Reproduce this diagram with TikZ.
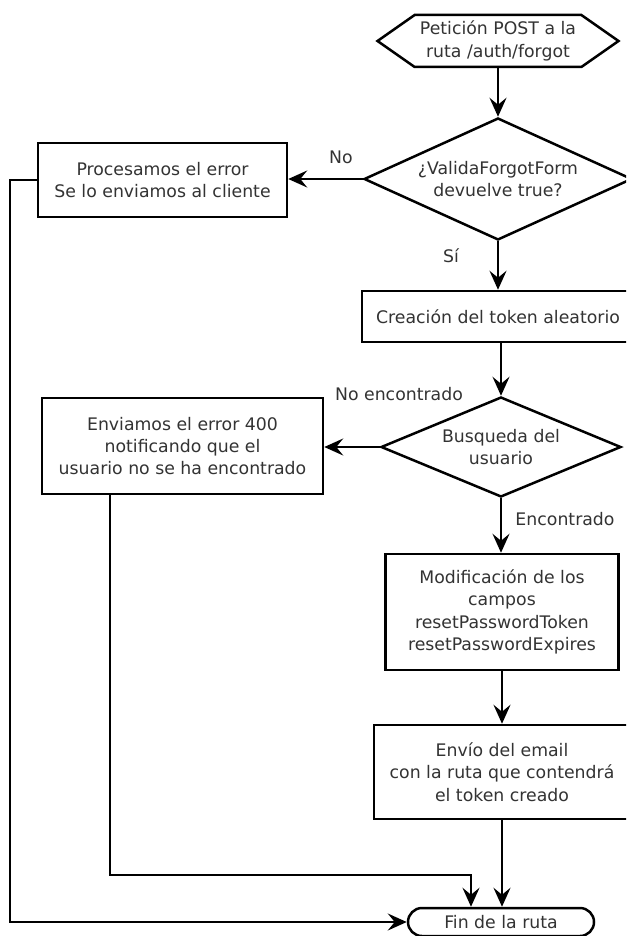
\documentclass[tikz,border=0pt]{standalone}
\usepackage{fontspec}
\setmainfont{DejaVu Sans}
\usetikzlibrary{shapes.geometric,shapes.misc,shapes.symbols,arrows.meta}

\tikzset{
  txt/.style={font=\fontsize{17.3}{22.3}\selectfont, text=black!80, align=center},
  shapeline/.style={draw=black, line width=2.5pt, fill=white},
  procbox/.style={txt, shapeline, rectangle, inner sep=0pt},
  decision/.style={txt, shapeline, diamond, inner sep=0pt, aspect=2.2},
  terminal/.style={txt, shapeline, rounded rectangle, inner sep=0pt},
  io/.style={txt, shapeline, signal, signal to=west and east, signal pointer angle=70, inner sep=0pt},
  arr/.style={draw=black, line width=2.2pt, -{Stealth[length=19pt, width=17pt, inset=7pt]}},
  lbl/.style={txt}
}

\begin{document}
\begin{tikzpicture}[x=1pt, y=-1pt]
  \useasboundingbox (0,0) rectangle (626,936);
  \clip (0,0) rectangle (626,936);

  % flow nodes
  \node[io, minimum width=241pt, minimum height=52pt] (start) at (498,41)
    {Petición POST a la\\ruta /auth/forgot};
  \node[decision, minimum width=268pt, minimum height=122pt] (d1) at (498,179)
    {¿ValidaForgotForm\\devuelve true?};
  \node[procbox, minimum width=249pt, minimum height=74pt] (err1) at (162.5,180)
    {Procesamos el error\\Se lo enviamos al cliente};
  \node[procbox, minimum width=272pt, minimum height=51pt] (tok) at (498,316.5)
    {Creación del token aleatorio};
  \node[decision, minimum width=240pt, minimum height=100pt, aspect=2.4] (d2) at (501,447)
    {Busqueda del\\usuario};
  \node[procbox, minimum width=281pt, minimum height=96pt] (err2) at (182.5,446)
    {Enviamos el error 400\\notificando que el\\usuario no se ha encontrado};
  \node[procbox, minimum width=233pt, minimum height=116pt] (mod) at (502,612)
    {Modificación de los\\campos\\resetPasswordToken\\resetPasswordExpires};
  \node[procbox, minimum width=256pt, minimum height=94pt] (mail) at (502,772)
    {Envío del email\\con la ruta que contendrá\\el token creado};
  \node[terminal, minimum width=186pt, minimum height=28pt] (fin) at (501,922)
    {Fin de la ruta};

  % routing points
  \coordinate (lx) at (10,0);
  \coordinate (j) at (471,875);

  % connectors
  \draw[arr] (start.south) -- (start.south |- d1.north);
  \draw[arr] (d1.west) -- (d1.west -| err1.east);
  \draw[arr] (d1.south) -- (d1.south |- tok.north);
  \draw[arr] (d2.north |- tok.south) -- (d2.north);
  \draw[arr] (d2.west) -- (d2.west -| err2.east);
  \draw[arr] (d2.south) -- (d2.south |- mod.north);
  \draw[arr] (mod.south) -- (mod.south |- mail.north);
  \draw[arr] (mail.south) -- (mail.south |- fin.north);
  \draw[arr] (err1.west) -- (err1.west -| lx) -- (lx |- fin.west) -- (fin.west);
  \draw[arr] ([xshift=69pt]err2.south west) -- ([xshift=69pt]err2.south west |- j) -- (j) -- (j |- fin.north);

  % branch labels
  \node[lbl] (lno) at (341,157) {No};
  \node[lbl] (lsi) at (451,256) {Sí};
  \node[lbl] (lnoenc) at (399,394) {No encontrado};
  \node[lbl] (lenc) at (565,519) {Encontrado};
\end{tikzpicture}
\end{document}
